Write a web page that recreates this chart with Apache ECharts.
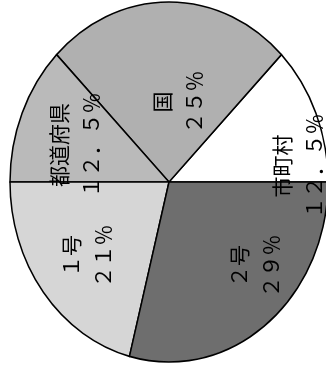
<!DOCTYPE html>
<html>
<head>
<meta charset="utf-8">
<script src="https://cdn.jsdelivr.net/npm/echarts@6/dist/echarts.min.js"></script>
<style>
  html, body { margin: 0; padding: 0; background: #fff; overflow: hidden; }
  #chart { width: 326px; height: 367px; }
</style>
</head>
<body>
<div id="chart"></div>
<script>
// 財源の構成（反時計回り、右水平から）
const categories = ['市町村', '国', '都道府県', '１号', '２号']
const shares = [12.5, 25, 12.5, 21, 29]
const shareLabels = ['１２．５％', '２５％', '１２．５％', '２１％', '２９％']
const sliceColors = ['#ffffff', '#b0b0b0', '#bababa', '#d6d6d6', '#6e6e6e']
const titleText = '介護保険の財源構成'

const chart = echarts.init(document.getElementById('chart'))

const cx = 169
const cy = 182
const stretchY = 180 / 159 // スキャン原図は縦に伸びた楕円
// ラベル中心位置（原図に合わせる）
const labelPos = [[298, 166], [178, 102], [75, 145], [87, 256], [255, 266]]

const option = {
    animation: false,
    backgroundColor: '#fff',
    graphic: [{
        type: 'text',
        x: -9,
        y: 233,
        rotation: Math.PI / 2,
        scaleX: stretchY,
        style: {
            text: titleText,
            fontSize: 19,
            fontFamily: 'Noto Sans CJK JP',
            fill: '#000',
            align: 'center',
            verticalAlign: 'middle'
        }
    }],
    series: [{
        type: 'pie',
        center: [cx, cy],
        radius: 159,
        startAngle: 0,
        clockwise: false,
        avoidLabelOverlap: false,
        silent: true,
        itemStyle: {
            borderColor: '#000',
            borderWidth: 1.5
        },
        label: {
            show: true,
            position: 'inside',
            rotate: 90,
            color: '#000',
            fontSize: 21,
            lineHeight: 32,
            fontFamily: 'Noto Sans CJK JP',
            formatter: p => p.name + '\n' + shareLabels[p.dataIndex]
        },
        labelLine: { show: false },
        labelLayout: p => ({ x: labelPos[p.dataIndex][0], y: labelPos[p.dataIndex][1], rotate: 90 }),
        data: categories.map((name, i) => ({
            name,
            value: shares[i],
            itemStyle: { color: sliceColors[i] }
        }))
    }]
}

chart.setOption(option)

// 扇形を縦方向に引き伸ばして楕円にする
const pieData = chart.getModel().getSeriesByIndex(0).getData()
pieData.each(i => {
    const el = pieData.getItemGraphicEl(i)
    if (!el) return
    el.originX = cx
    el.originY = cy
    el.scaleY = stretchY
    el.markRedraw()
})
chart.getZr().refresh()
</script>
</body>
</html>
